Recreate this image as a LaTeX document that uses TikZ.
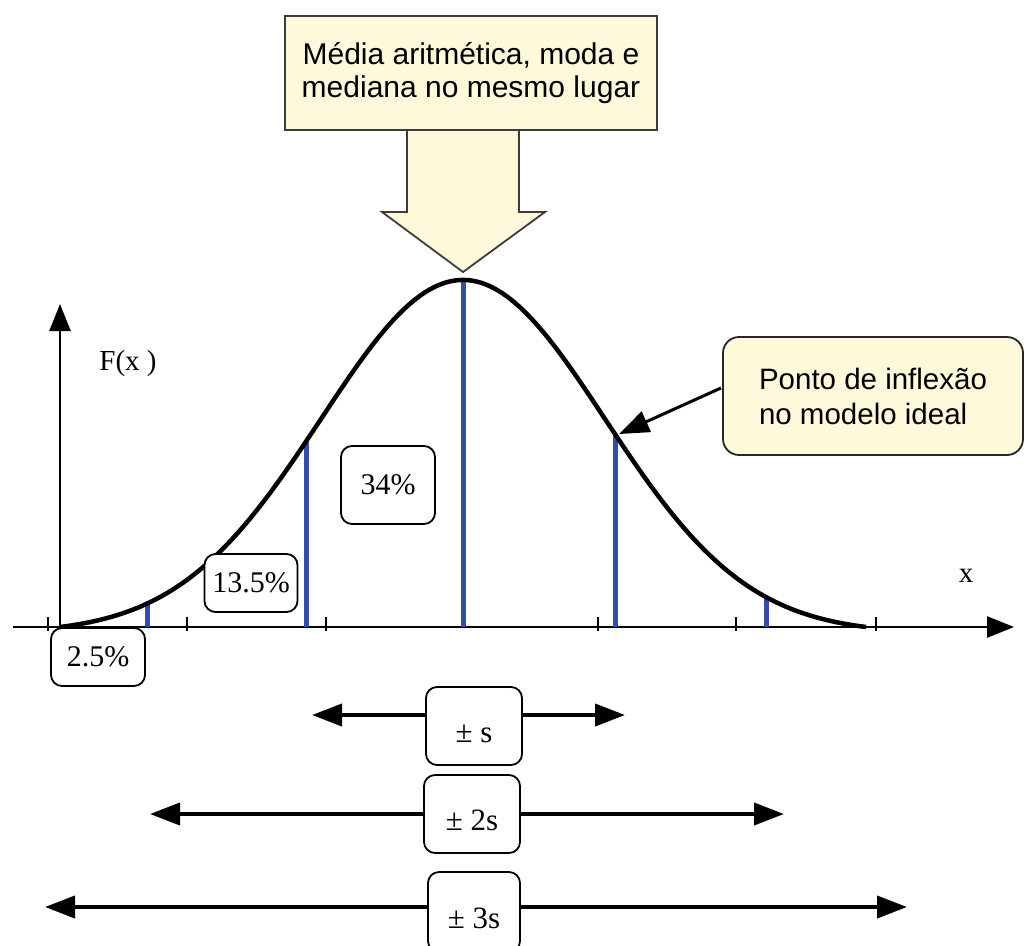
\documentclass[tikz,border=0pt]{standalone}
\usepackage{fontspec}
\setmainfont{Liberation Serif}
\newfontfamily\arialf{Liberation Sans}
\usetikzlibrary{arrows.meta}
\definecolor{cream}{RGB}{255,249,219}
\definecolor{bline}{RGB}{52,78,166}
\definecolor{edge}{RGB}{60,60,60}
\begin{document}
\begin{tikzpicture}[x=1pt,y=-1pt,
  declare function={gy(\t)=627-347*(exp(-0.5*((\t-463)/142)^2)-0.0178)/(1-0.0178);},
  pbox/.style={draw, line width=1.8pt, rounded corners=11pt, fill=white, inner sep=0pt,
    font=\fontsize{30}{32}\selectfont},
  sbox/.style={pbox, font=\fontsize{31}{33}\selectfont, text height=32pt, text depth=0pt},
  bigarrow/.style={line width=4pt, -{Triangle[length=30pt,width=22pt]}},
  axisline/.style={line width=2.6pt, -{Triangle[length=27pt,width=21pt]}},
  tick/.style={line width=2.2pt},
  blue/.style={bline, line width=5pt}]
\useasboundingbox (0,0) rectangle (1027,945);

% big block arrow
\draw[edge, line width=1.8pt, fill=cream]
  (407,125) -- (407,212) -- (382,212) -- (463,272) -- (545,212) -- (519,212) -- (519,125);
\node[draw=edge, fill=cream, line width=1.8pt, minimum width=372pt, minimum height=114pt,
  align=center, font=\arialf\fontsize{30}{33}\selectfont] (mbox) at (471,73)
  {Média aritmética, moda e\\mediana no mesmo lugar};

% axes
\coordinate (o) at (60,627);
\coordinate (xend) at (1014,627);
\coordinate (xstart) at (13,627);
\coordinate (yend) at (60,304);
\draw[axisline] (xstart) -- (xend);
\draw[axisline] (o) -- (yend);
\foreach \t in {48,187,326,598,736,876} \draw[tick] (\t,617) -- (\t,631);

% blue lines
\foreach \b in {147,306,463,615,766} \draw[blue] (\b,627) -- (\b,{gy(\b)});

% curve
\draw[line width=4.5pt, line join=round] plot[domain=60:866, samples=160, smooth] (\x,{gy(\x)});

% labels
\node[font=\fontsize{29}{31}\selectfont] (fx) at (128,364) {F(x )};
\node[font=\fontsize{29}{31}\selectfont] (xl) at (966,576) {x};

% percentage boxes
\node[pbox, minimum width=94pt, minimum height=78pt] (p34) at (388,485) {34\%};
\node[pbox, minimum width=93pt, minimum height=58pt] (p135) at (251,583) {13.5\%};
\node[pbox, minimum width=94pt, minimum height=58pt] (p25) at (98,657) {2.5\%};

% callout
\node[draw=black!85, fill=cream, line width=1.8pt, rounded corners=16pt, minimum width=300pt,
  minimum height=118pt, align=left, font=\arialf\fontsize{29.5}{35}\selectfont] (cbox) at (873,396)
  {Ponto de inflexão\\no modelo ideal};
\coordinate (cfrom) at (721,388);
\coordinate (infl) at (619,{gy(619)-6});
\draw[line width=3pt, -{Triangle[length=30pt,width=22pt]}] (cfrom) -- (infl);

% sigma ranges
\node[sbox, minimum width=96pt, minimum height=78pt] (pm1) at (474,726) {± s};
\node[sbox, minimum width=96pt, minimum height=78pt] (pm2) at (472,814) {± 2s};
\node[sbox, minimum width=92pt, minimum height=80pt] (pm3) at (474,912) {± 3s};
\coordinate (s1l) at (312,715);
\coordinate (s1r) at (625,715);
\coordinate (s2l) at (150,814);
\coordinate (s2r) at (784,814);
\coordinate (s3l) at (45,907);
\coordinate (s3r) at (907,907);
\draw[bigarrow] (pm1.west |- s1l) -- (s1l);
\draw[bigarrow] (pm1.east |- s1r) -- (s1r);
\draw[bigarrow] (pm2.west |- s2l) -- (s2l);
\draw[bigarrow] (pm2.east |- s2r) -- (s2r);
\draw[bigarrow] (pm3.west |- s3l) -- (s3l);
\draw[bigarrow] (pm3.east |- s3r) -- (s3r);
\end{tikzpicture}
\end{document}
